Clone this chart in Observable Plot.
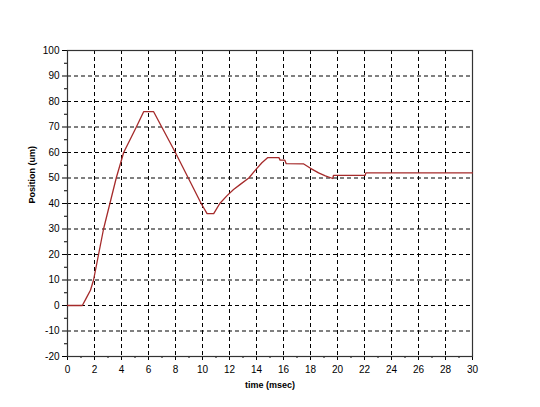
<!DOCTYPE html>
<html><head><meta charset="utf-8">
<script src="https://cdn.jsdelivr.net/npm/d3@7"></script>
<script src="https://cdn.jsdelivr.net/npm/@observablehq/plot@0.6"></script>
<style>body{margin:0;background:#fff}</style>
</head><body><div id="chart"></div>
<script>
const timeMs = [0, 1.1, 1.4, 1.7, 1.93, 2.3, 2.67, 3.14, 3.61, 4.16, 5.1, 5.64, 6.38, 7.99, 8.9, 9.9, 10.34, 10.83, 11.28, 11.8, 12.3, 12.8, 13.43, 13.9, 14.4, 14.84, 15.66, 15.75, 16.1, 16.2, 17.5, 18.0, 18.6, 19.1, 19.65, 19.7, 22.05, 22.1, 30];
const positionUm = [0, 0, 3, 6, 10, 20, 30, 40, 50, 60, 70, 76, 76, 60, 50.5, 40, 36, 36, 40, 43, 45.5, 47.5, 50, 53, 56, 58, 58, 57, 57, 55.6, 55.5, 53.8, 52, 50.8, 49.8, 51, 51, 52, 52];
const xMajorTicks = [0, 2, 4, 6, 8, 10, 12, 14, 16, 18, 20, 22, 24, 26, 28, 30];
const xMinorTicks = [1, 3, 5, 7, 9, 11, 13, 15, 17, 19, 21, 23, 25, 27, 29];
const yMajorTicks = [-20, -10, 0, 10, 20, 30, 40, 50, 60, 70, 80, 90, 100];
const yMinorTicks = [-15, -5, 5, 15, 25, 35, 45, 55, 65, 75, 85, 95];

const data = timeMs.map((t, i) => ({t, v: positionUm[i]}));

const chart = Plot.plot({
  width: 540,
  height: 407,
  marginLeft: 67,
  marginRight: 68,
  marginTop: 50,
  marginBottom: 51,
  style: {fontFamily: "'Liberation Sans', Arial, sans-serif", fontSize: "10px", background: "#fff", color: "#000"},
  x: {domain: [0, 30]},
  y: {domain: [-20, 100]},
  marks: [
    Plot.gridX(xMajorTicks.slice(1, -1), {stroke: "#000", strokeOpacity: 1, strokeDasharray: "4,3", strokeWidth: 1}),
    Plot.gridY(yMajorTicks.slice(1, -1), {stroke: "#000", strokeOpacity: 1, strokeDasharray: "4,3", strokeWidth: 1}),
    Plot.axisX(xMajorTicks, {tickSize: 4, tickPadding: 5, label: null, fontSize: 10, tickFormat: d => String(d)}),
    Plot.axisX(xMinorTicks, {tickSize: 2, tickFormat: () => "", label: null}),
    Plot.axisY(yMajorTicks, {tickSize: 5, tickPadding: 3, label: null, fontSize: 10, tickFormat: d => String(d)}),
    Plot.axisY(yMinorTicks, {tickSize: 3, tickFormat: () => "", label: null}),
    Plot.frame({stroke: "#333", strokeWidth: 1.2}),
    Plot.line(data, {x: "t", y: "v", stroke: "#a52a2a", strokeWidth: 1.3}),
    Plot.text(["Position (um)"], {frameAnchor: "left", dx: -35, rotate: -90, fontWeight: "bold", fontSize: 9}),
    Plot.text(["time (msec)"], {frameAnchor: "bottom", dy: 31, fontWeight: "bold", fontSize: 9})
  ]
});
document.getElementById("chart").append(chart);
</script>
</body></html>
